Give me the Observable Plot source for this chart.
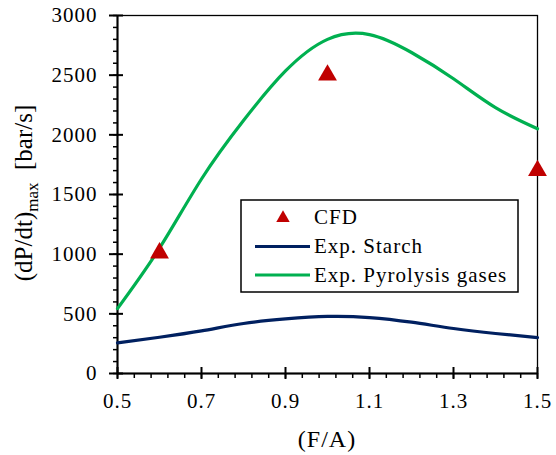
<!DOCTYPE html>
<html><head><meta charset="utf-8">
<script src="https://cdn.jsdelivr.net/npm/d3@7"></script>
<script src="https://cdn.jsdelivr.net/npm/@observablehq/plot@0.6"></script>
<style>body{margin:0;background:#fff}</style>
</head><body><div id="chart"></div>
<script>
// Tick labels
const xTicks = [0.5, 0.7, 0.9, 1.1, 1.3, 1.5];
const yTicks = [0, 500, 1000, 1500, 2000, 2500, 3000];
// CFD points
const cfdX = [0.6, 1.0, 1.5];
const cfdY = [1010, 2500, 1700];
// Exp. Starch curve
const starchX = [0.5, 0.6, 0.7, 0.8, 0.9, 1.0, 1.1, 1.2, 1.3, 1.4, 1.5];
const starchY = [256, 304, 357, 419, 457, 478, 469, 430, 377, 335, 301];
// Exp. Pyrolysis gases curve
const pyroX = [0.5, 0.6, 0.7, 0.8, 0.9, 1.0, 1.1, 1.2, 1.3, 1.4, 1.5];
const pyroY = [544, 1050, 1630, 2120, 2535, 2800, 2840, 2690, 2470, 2228, 2051];
// Legend labels
const seriesNames = ["CFD", "Exp. Starch", "Exp. Pyrolysis gases"];

const cfd = cfdX.map((x, i) => ({x, y: cfdY[i]}));
const starch = starchX.map((x, i) => ({x, y: starchY[i]}));
const pyro = pyroX.map((x, i) => ({x, y: pyroY[i]}));

const W = 556, H = 455, mL = 117, mR = 19, mT = 15, mB = 82;
const iw = W - mL - mR, ih = H - mT - mB;
const xMinor = d3.range(0.5, 1.5001, 0.04);
const yMinor = d3.range(0, 3001, 100);
const FONT = '"Liberation Serif", "Times New Roman", serif';
const RED = "#C00000", NAVY = "#002060", GREEN = "#00B050";

const plot = Plot.plot({
  width: W, height: H,
  marginLeft: mL, marginRight: mR, marginTop: mT, marginBottom: mB,
  style: {fontFamily: FONT, fontSize: "21px", color: "#000", background: "#fff", letterSpacing: "1px"},
  x: {domain: [0.5, 1.5]},
  y: {domain: [0, 3000]},
  marks: [
    Plot.frame({stroke: "#000", strokeWidth: 1.3}),
    Plot.ruleX([0.5], {stroke: "#000", strokeWidth: 2}),
    Plot.ruleY([0], {stroke: "#000", strokeWidth: 2}),
    Plot.tickX(xMinor, {x: d => d, insetTop: ih, insetBottom: -5, stroke: "#000", strokeWidth: 1.5}),
    Plot.tickX(xTicks, {x: d => d, insetTop: ih - 6, insetBottom: -6, stroke: "#000", strokeWidth: 2}),
    Plot.tickY(yMinor, {y: d => d, insetLeft: -4, insetRight: iw, stroke: "#000", strokeWidth: 1.5}),
    Plot.tickY(yTicks, {y: d => d, insetLeft: -8, insetRight: iw - 6, stroke: "#000", strokeWidth: 2}),
    Plot.axisX(xTicks, {tickSize: 0, tickPadding: 20, tickFormat: d => d.toFixed(1), label: null}),
    Plot.axisY(yTicks, {tickSize: 0, tickPadding: 20, tickFormat: d => String(d), label: null}),
    Plot.line(starch, {x: "x", y: "y", stroke: NAVY, strokeWidth: 3.2, curve: "natural"}),
    Plot.line(pyro, {x: "x", y: "y", stroke: GREEN, strokeWidth: 3.2, curve: "natural"}),
    Plot.dot(cfd, {x: "x", y: "y", symbol: "triangle", r: 7, fill: RED, stroke: "none"})
  ]
});

const svg = d3.select(plot);
// Y axis title with subscript
const yl = svg.append("text")
  .attr("transform", "translate(32,193) rotate(-90)")
  .attr("text-anchor", "middle")
  .attr("font-family", FONT).attr("font-size", 25).attr("fill", "#000")
  .style("letter-spacing", "0px");
yl.append("tspan").text("(dP/dt)");
yl.append("tspan").attr("font-size", 17).attr("dy", 6).text("max");
yl.append("tspan").attr("dy", -6).text("\u00A0\u00A0[bar/s]");
// X axis title
svg.append("text")
  .attr("x", 327).attr("y", 447)
  .attr("text-anchor", "middle")
  .attr("font-family", FONT).attr("font-size", 24).attr("fill", "#000")
  .style("letter-spacing", "1px")
  .text("(F/A)");
// Legend
const lg = svg.append("g").attr("transform", "translate(241,200)")
  .attr("font-family", FONT).attr("font-size", 21).attr("text-anchor", "start");
lg.append("rect").attr("width", 277).attr("height", 92)
  .attr("fill", "#fff").attr("stroke", "#000").attr("stroke-width", 1.5);
lg.append("path").attr("transform", "translate(42,18)")
  .attr("d", d3.symbol(d3.symbolTriangle, Math.PI * 5 * 5)()).attr("fill", RED);
lg.append("line").attr("x1", 14).attr("x2", 69).attr("y1", 46.5).attr("y2", 46.5)
  .attr("stroke", NAVY).attr("stroke-width", 3.2);
lg.append("line").attr("x1", 14).attr("x2", 69).attr("y1", 75).attr("y2", 75)
  .attr("stroke", GREEN).attr("stroke-width", 3.2);
const rows = [16.5, 45.5, 75];
seriesNames.forEach((name, i) => {
  lg.append("text").attr("x", 73).attr("y", rows[i]).attr("dy", "0.35em")
    .attr("text-anchor", "start")
    .attr("fill", "#000").style("letter-spacing", "1px").text(name);
});

document.getElementById("chart").appendChild(plot);
</script>
</body></html>
